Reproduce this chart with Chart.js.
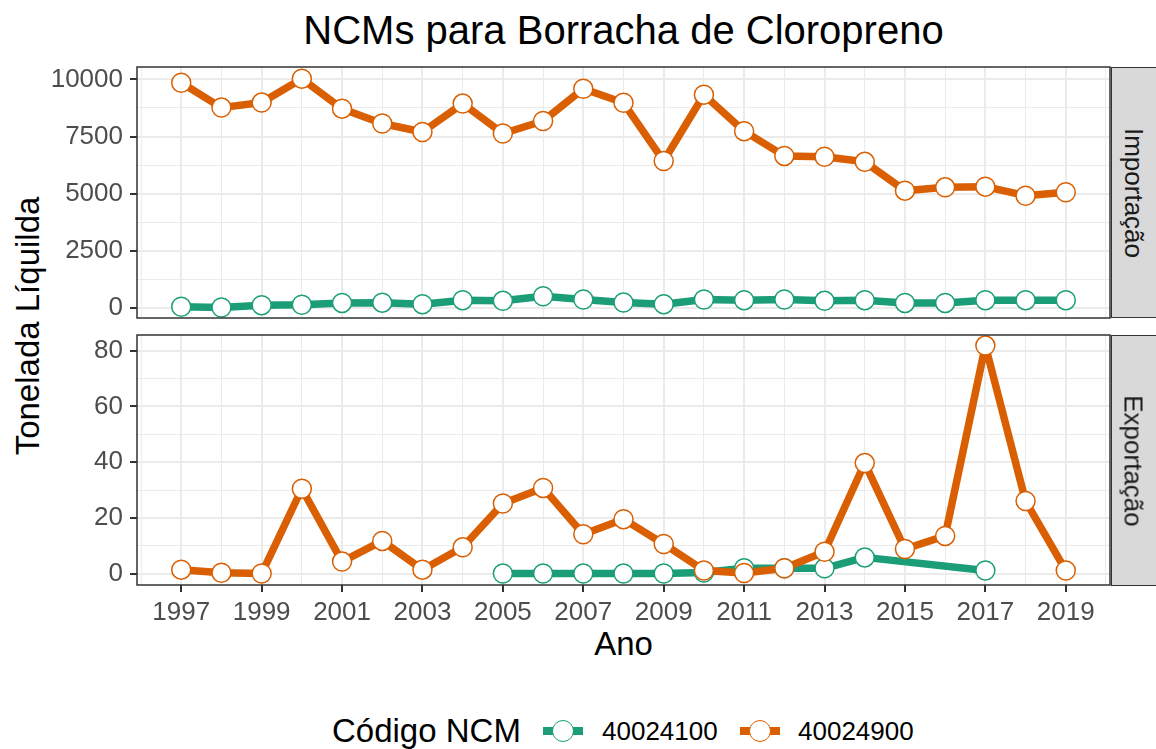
<!DOCTYPE html>
<html>
<head>
<meta charset="utf-8">
<script src="https://cdn.jsdelivr.net/npm/chart.js@4.4.1/dist/chart.umd.min.js"></script>
<style>
body { margin: 0; width: 1156px; height: 749px; overflow: hidden; background: #fff; position: relative; font-family: 'Liberation Sans', Arial, sans-serif; }
.abs { position: absolute; white-space: nowrap; color: #000; }
canvas { position: absolute; left: 0; }
#title { left: 137px; width: 973px; top: 10px; font-size: 40px; line-height: 40px; text-align: center; }
#ytitle { left: 27px; top: 326px; font-size: 33px; line-height: 33px; transform: translate(-50%, -50%) rotate(-90deg); }
#xtitle { left: 137px; width: 973px; top: 627px; font-size: 33px; line-height: 33px; text-align: center; }
.strip { position: absolute; left: 1111px; width: 60px; background: #d9d9d9; border: 1.5px solid #333; box-sizing: border-box; }
.strip span { position: absolute; left: 21px; top: 50%; transform: translate(-50%, -50%) rotate(90deg); font-size: 26px; color: #1a1a1a; white-space: nowrap; }
.key { position: absolute; width: 40px; height: 22px; }
.key .bar { position: absolute; left: 0; top: 7px; width: 40px; height: 8px; }
.key .dot { position: absolute; left: 9px; top: 0; width: 22px; height: 22px; box-sizing: border-box; border-radius: 50%; background: #fff; border: 1.5px solid; }
.ltxt { font-size: 26px; line-height: 26px; }
</style>
</head>
<body>
<div id="title" class="abs">NCMs para Borracha de Cloropreno</div>
<div id="ytitle" class="abs">Tonelada Líquilda</div>
<div id="xtitle" class="abs">Ano</div>

<canvas id="impChart" width="1122" height="311" style="top:37px"></canvas>
<canvas id="expChart" width="1122" height="330" style="top:305px"></canvas>

<div class="strip" style="top:67px;height:251px"><span>Importação</span></div>
<div class="strip" style="top:335px;height:251px"><span>Exportação</span></div>

<div class="abs" style="left:332px;top:714px;font-size:33px;line-height:33px">Código NCM</div>
<div class="key" style="left:543px;top:720px"><div class="bar" style="background:#1b9e77"></div><div class="dot" style="border-color:#1b9e77"></div></div>
<div class="abs ltxt" style="left:602px;top:718px">40024100</div>
<div class="key" style="left:740px;top:720px"><div class="bar" style="background:#d95f02"></div><div class="dot" style="border-color:#d95f02"></div></div>
<div class="abs ltxt" style="left:798px;top:718px">40024900</div>

<script>
const years = [1997, 1998, 1999, 2000, 2001, 2002, 2003, 2004, 2005, 2006, 2007, 2008,
    2009, 2010, 2011, 2012, 2013, 2014, 2015, 2016, 2017, 2018, 2019];

// Importação (tonelada líquida)
const impNcm4100 = [60, 30, 130, 150, 230, 240, 175, 350, 320, 520, 380, 250,
    175, 380, 350, 380, 320, 350, 230, 230, 350, 350, 350];
const impNcm4900 = [9850, 8765, 8985, 10030, 8720, 8070, 7700, 8940, 7635, 8180, 9590, 8975,
    6430, 9330, 7735, 6655, 6615, 6395, 5135, 5280, 5310, 4915, 5065];

// Exportação (tonelada líquida)
const expNcm4100 = [null, null, null, null, null, null, null, null, 0.1, 0.1, 0.1, 0.1,
    0.1, 0.5, 2.0, 2.0, 2.0, 5.9, null, null, 1.2, null, null];
const expNcm4900 = [1.5, 0.4, 0.1, 30.5, 4.4, 11.8, 1.5, 9.5, 25.2, 30.8, 14.2, 19.6,
    10.7, 1.2, 0.3, 2.0, 7.9, 39.7, 8.9, 13.6, 81.8, 26.1, 1.2];

// tick marks (labelled) and minor grid lines
const yearTicks = [1997, 1999, 2001, 2003, 2005, 2007, 2009, 2011, 2013, 2015, 2017, 2019];
const yearMinor = [1996, 1998, 2000, 2002, 2004, 2006, 2008, 2010, 2012, 2014, 2016, 2018, 2020];
const impTicks = [0, 2500, 5000, 7500, 10000];
const impMinor = [1250, 3750, 6250, 8750];
const expTicks = [0, 20, 40, 60, 80];
const expMinor = [10, 30, 50, 70];

const GREEN = '#1b9e77';
const ORANGE = '#d95f02';

Chart.defaults.font.family = "'Liberation Sans', Arial, sans-serif";

const panelBorder = {
    id: 'panelBorder',
    afterDraw(chart) {
        const a = chart.chartArea;
        const ctx = chart.ctx;
        ctx.save();
        ctx.strokeStyle = '#333333';
        ctx.lineWidth = 1.5;
        ctx.strokeRect(a.left, a.top, a.right - a.left, a.bottom - a.top);
        ctx.restore();
    }
};

function toPoints(vals) {
    return years.map((yr, i) => ({ x: yr, y: vals[i] }));
}

function lineSet(vals, color, order) {
    return {
        data: toPoints(vals),
        borderColor: color,
        borderWidth: 7.5,
        borderJoinStyle: 'round',
        pointRadius: 0,
        spanGaps: true,
        order: order
    };
}

function pointSet(vals, color, order) {
    return {
        data: toPoints(vals),
        showLine: false,
        pointRadius: 9.5,
        pointBorderWidth: 1.5,
        pointBorderColor: color,
        pointBackgroundColor: '#ffffff',
        order: order
    };
}

function tickList(major, minor) {
    return major.concat(minor).sort((a, b) => a - b).map(v => ({ value: v }));
}

function makePanel(canvasId, green, orange, yMin, yMax, yMajor, yMinor, showX) {
    const isYear = v => yearTicks.includes(v);
    const isMajor = v => yMajor.includes(v);
    return new Chart(document.getElementById(canvasId), {
        type: 'line',
        data: {
            datasets: [
                lineSet(green, GREEN, 3),
                lineSet(orange, ORANGE, 2),
                pointSet(green, GREEN, 1),
                pointSet(orange, ORANGE, 0)
            ]
        },
        options: {
            responsive: false,
            devicePixelRatio: 1,
            animation: false,
            events: [],
            layout: { padding: { top: 30, bottom: showX ? 0 : 30, left: 0, right: 12 } },
            plugins: { legend: { display: false }, tooltip: { enabled: false } },
            scales: {
                x: {
                    type: 'linear',
                    min: 1995.9,
                    max: 2020.1,
                    border: { display: false },
                    afterBuildTicks: s => { s.ticks = tickList(yearTicks, yearMinor); },
                    afterFit: s => { s.height = showX ? 50 : 0; },
                    grid: {
                        color: '#ebebeb',
                        lineWidth: c => (c.tick && isYear(c.tick.value)) ? 2 : 1,
                        drawTicks: showX,
                        tickLength: 7,
                        tickWidth: 2,
                        tickColor: c => (c.tick && isYear(c.tick.value)) ? '#333333' : 'rgba(0,0,0,0)'
                    },
                    ticks: {
                        display: showX,
                        autoSkip: false,
                        maxRotation: 0,
                        padding: 5,
                        color: '#4d4d4d',
                        font: { size: 26 },
                        callback: v => isYear(v) ? String(v) : ''
                    }
                },
                y: {
                    min: yMin,
                    max: yMax,
                    border: { display: false },
                    afterBuildTicks: s => { s.ticks = tickList(yMajor, yMinor); },
                    afterFit: s => { s.width = 137; },
                    grid: {
                        color: '#ebebeb',
                        lineWidth: c => (c.tick && isMajor(c.tick.value)) ? 2 : 1,
                        tickLength: 7,
                        tickWidth: 2,
                        tickColor: c => (c.tick && isMajor(c.tick.value)) ? '#333333' : 'rgba(0,0,0,0)'
                    },
                    ticks: {
                        autoSkip: false,
                        padding: 7,
                        color: '#4d4d4d',
                        font: { size: 26 },
                        callback: v => isMajor(v) ? String(v) : ''
                    }
                }
            }
        },
        plugins: [panelBorder]
    });
}

makePanel('impChart', impNcm4100, impNcm4900, -430, 10540, impTicks, impMinor, false);
makePanel('expChart', expNcm4100, expNcm4900, -4, 85.6, expTicks, expMinor, true);
</script>
</body>
</html>
